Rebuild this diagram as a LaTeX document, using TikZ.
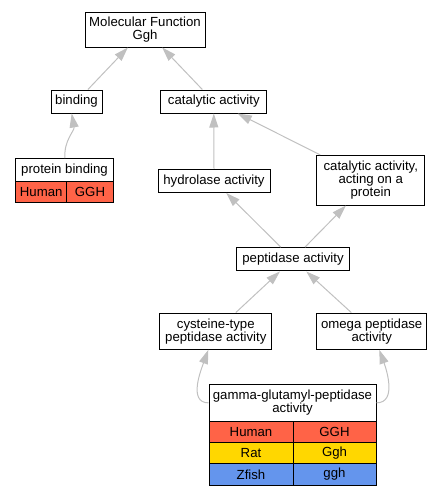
\documentclass[tikz,border=0pt]{standalone}
\usepackage{fontspec}
\setmainfont{Liberation Sans}
\usetikzlibrary{arrows.meta,calc}
\definecolor{edgegray}{RGB}{192,192,192}
\definecolor{tomato}{RGB}{255,99,71}
\definecolor{goldc}{RGB}{255,215,0}
\definecolor{cornflower}{RGB}{100,149,237}
\tikzset{
  box/.style={draw=black, line width=1pt, fill=white, inner sep=0pt, align=center,
    font=\fontsize{13.2}{13}\selectfont},
  cell/.style={box},
  edge/.style={draw=edgegray, line width=1pt, -{Triangle[length=14pt,width=9pt,fill=edgegray]}}
}
\begin{document}
\begin{tikzpicture}[x=1pt,y=-1pt]
\useasboundingbox (0,0) rectangle (443,496);
% nodes
\node[box, minimum width=120pt, minimum height=35pt] (mf) at (145,29.5) {Molecular Function\\Ggh};
\node[box, minimum width=51pt, minimum height=23pt] (bind) at (76.5,101.5) {binding};
\node[box, minimum width=105.7pt, minimum height=23pt] (cat) at (213.8,101.5) {catalytic activity};
\node[box, minimum width=97.6pt, minimum height=22.3pt] (pbh) at (64.5,169.85) {protein binding};
\node[cell, fill=tomato, minimum width=51pt, minimum height=21.3pt] (pbsp) at (41.2,191.65) {Human};
\node[cell, fill=tomato, minimum width=46.6pt, minimum height=21.3pt] (pbgn) at (90,191.65) {GGH};
\node[box, minimum width=112pt, minimum height=23.3pt] (hyd) at (214,180.7) {hydrolase activity};
\node[box, minimum width=108.3pt, minimum height=49.7pt] (cap) at (370.8,180.2) {catalytic activity,\\acting on a\\protein};
\node[box, minimum width=112.3pt, minimum height=23.3pt] (pep) at (293,259.3) {peptidase activity};
\node[box, minimum width=112.3pt, minimum height=36.3pt] (cys) at (215.8,331.2) {cysteine-type\\peptidase activity};
\node[box, minimum width=110pt, minimum height=36.3pt] (omg) at (371.7,331.2) {omega peptidase\\activity};
\node[box, minimum width=167pt, minimum height=36.3pt] (ggh) at (292.5,402.85) {gamma-glutamyl-peptidase\\activity};
\node[cell, fill=tomato, minimum width=84pt, minimum height=21.4pt] (gsp1) at (251,431.7) {Human};
\node[cell, fill=tomato, minimum width=83pt, minimum height=21.4pt] (ggn1) at (334.5,431.7) {GGH};
\node[cell, fill=goldc, minimum width=84pt, minimum height=21.4pt] (gsp2) at (251,453.1) {Rat};
\node[cell, fill=goldc, minimum width=83pt, minimum height=21.4pt] (ggn2) at (334.5,453.1) {Ggh};
\node[cell, fill=cornflower, minimum width=84pt, minimum height=21.4pt] (gsp3) at (251,474.5) {Zfish};
\node[cell, fill=cornflower, minimum width=83pt, minimum height=21.4pt] (ggn3) at (334.5,474.5) {ggh};
% edges
\draw[edge] (bind) -- (mf);
\draw[edge] (cat) -- (mf);
\draw[edge] ($(pbh.north)+(0.5,0)$) to[out=95,in=-80] ($(bind.south)+(-4.8,0)$);
\draw[edge] (hyd.north) -- (cat.south);
\draw[edge] (cap) -- (cat);
\draw[edge] (pep) -- (hyd);
\draw[edge] (pep) -- (cap);
\draw[edge] (cys) -- (pep);
\draw[edge] (omg) -- (pep);
\draw[edge] (ggh.west) to[out=180,in=-110] ($(cys.south)+(-7.5,0)$);
\draw[edge] (ggh.east) to[out=0,in=-70] ($(omg.south)+(7.6,0)$);
\end{tikzpicture}
\end{document}
